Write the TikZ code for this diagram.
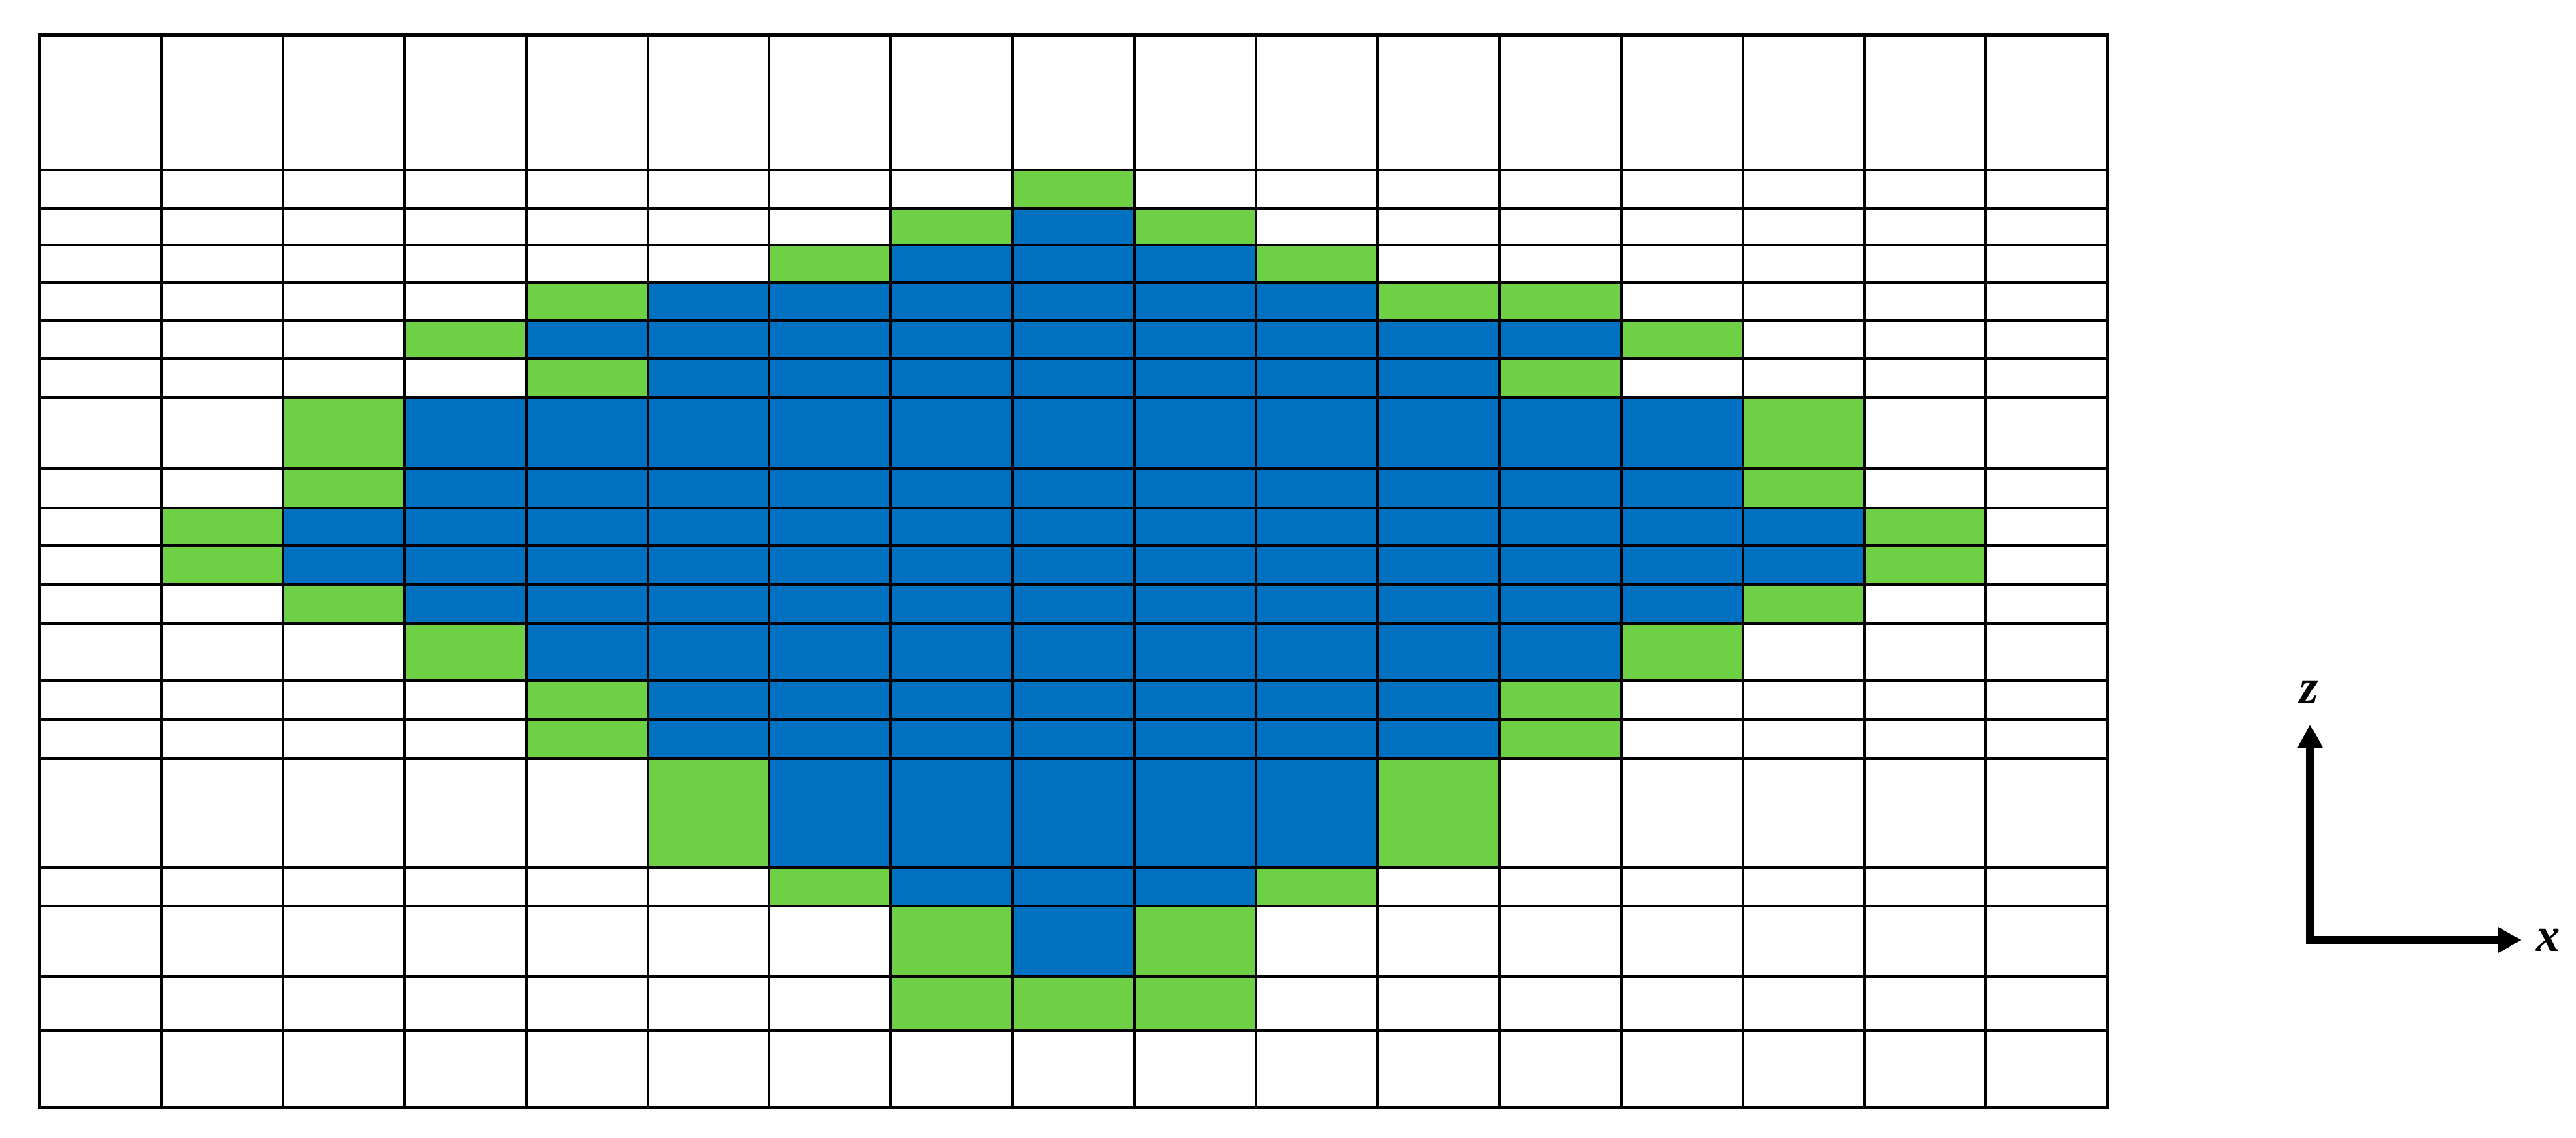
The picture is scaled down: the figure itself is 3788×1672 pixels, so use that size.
\documentclass[tikz,border=0pt]{standalone}
\usepackage{fontspec}
\setmainfont{Liberation Serif}
\usetikzlibrary{arrows.meta}
\definecolor{cellgreen}{RGB}{110,208,68}
\definecolor{cellblue}{RGB}{0,112,192}
\tikzset{
  gridline/.style={line width=0.4mm, black},
  borderline/.style={line width=0.5mm, black},
  axisline/.style={line width=1.2mm, black, line join=miter,
    {Triangle[length=3.4mm,width=3.5mm]}-{Triangle[length=3.4mm,width=3.5mm]}},
  axislabel/.style={font=\fontsize{20}{24}\selectfont\bfseries\itshape, inner sep=0pt}
}
\def\ys{{51,250,307,360,415,471,527,584,689,747,802,859,917,1000,1058,1115,1275,1332,1436,1515,1628}}
\newcommand{\xat}[1]{58+#1*178.9}
\newcommand{\fillcells}[4]{% row, first col, last col, colour
  \pgfmathsetmacro\yA{\ys[#1]}%
  \pgfmathsetmacro\yB{\ys[#1+1]}%
  \pgfmathsetmacro\xA{58+#2*178.9}%
  \pgfmathsetmacro\xB{58+(#3+1)*178.9}%
  \fill[#4] (\xA,\yA) rectangle (\xB,\yB);}
\begin{document}
\begin{tikzpicture}[x=0.1mm,y=-0.1mm]
\useasboundingbox (0,0) rectangle (3788,1672);
% coloured cells
\fillcells{1}{8}{8}{cellgreen}
\fillcells{2}{7}{7}{cellgreen}\fillcells{2}{8}{8}{cellblue}\fillcells{2}{9}{9}{cellgreen}
\fillcells{3}{6}{6}{cellgreen}\fillcells{3}{7}{9}{cellblue}\fillcells{3}{10}{10}{cellgreen}
\fillcells{4}{4}{4}{cellgreen}\fillcells{4}{5}{10}{cellblue}\fillcells{4}{11}{12}{cellgreen}
\fillcells{5}{3}{3}{cellgreen}\fillcells{5}{4}{12}{cellblue}\fillcells{5}{13}{13}{cellgreen}
\fillcells{6}{4}{4}{cellgreen}\fillcells{6}{5}{11}{cellblue}\fillcells{6}{12}{12}{cellgreen}
\fillcells{7}{2}{2}{cellgreen}\fillcells{7}{3}{13}{cellblue}\fillcells{7}{14}{14}{cellgreen}
\fillcells{8}{2}{2}{cellgreen}\fillcells{8}{3}{13}{cellblue}\fillcells{8}{14}{14}{cellgreen}
\fillcells{9}{1}{1}{cellgreen}\fillcells{9}{2}{14}{cellblue}\fillcells{9}{15}{15}{cellgreen}
\fillcells{10}{1}{1}{cellgreen}\fillcells{10}{2}{14}{cellblue}\fillcells{10}{15}{15}{cellgreen}
\fillcells{11}{2}{2}{cellgreen}\fillcells{11}{3}{13}{cellblue}\fillcells{11}{14}{14}{cellgreen}
\fillcells{12}{3}{3}{cellgreen}\fillcells{12}{4}{12}{cellblue}\fillcells{12}{13}{13}{cellgreen}
\fillcells{13}{4}{4}{cellgreen}\fillcells{13}{5}{11}{cellblue}\fillcells{13}{12}{12}{cellgreen}
\fillcells{14}{4}{4}{cellgreen}\fillcells{14}{5}{11}{cellblue}\fillcells{14}{12}{12}{cellgreen}
\fillcells{15}{5}{5}{cellgreen}\fillcells{15}{6}{10}{cellblue}\fillcells{15}{11}{11}{cellgreen}
\fillcells{16}{6}{6}{cellgreen}\fillcells{16}{7}{9}{cellblue}\fillcells{16}{10}{10}{cellgreen}
\fillcells{17}{7}{7}{cellgreen}\fillcells{17}{8}{8}{cellblue}\fillcells{17}{9}{9}{cellgreen}
\fillcells{18}{7}{9}{cellgreen}
% grid lines
\foreach \c in {1,...,16}{
  \draw[gridline] ({58+\c*178.9},51) -- ({58+\c*178.9},1628);
}
\foreach \r in {1,...,19}{
  \pgfmathsetmacro\yy{\ys[\r]}
  \draw[gridline] (58,\yy) -- (3099.3,\yy);
}
\draw[borderline] (58,51) rectangle (3099.3,1628);
% axes
\coordinate (origin) at (3397,1382);
\coordinate (ztip) at (3397,1065);
\coordinate (xtip) at (3708,1382);
\draw[axisline] (ztip) -- (origin) -- (xtip);
\node[axislabel] (zlabel) at (3395,1017) {z};
\node[axislabel] (xlabel) at (3747,1382) {x};
\end{tikzpicture}
\end{document}
